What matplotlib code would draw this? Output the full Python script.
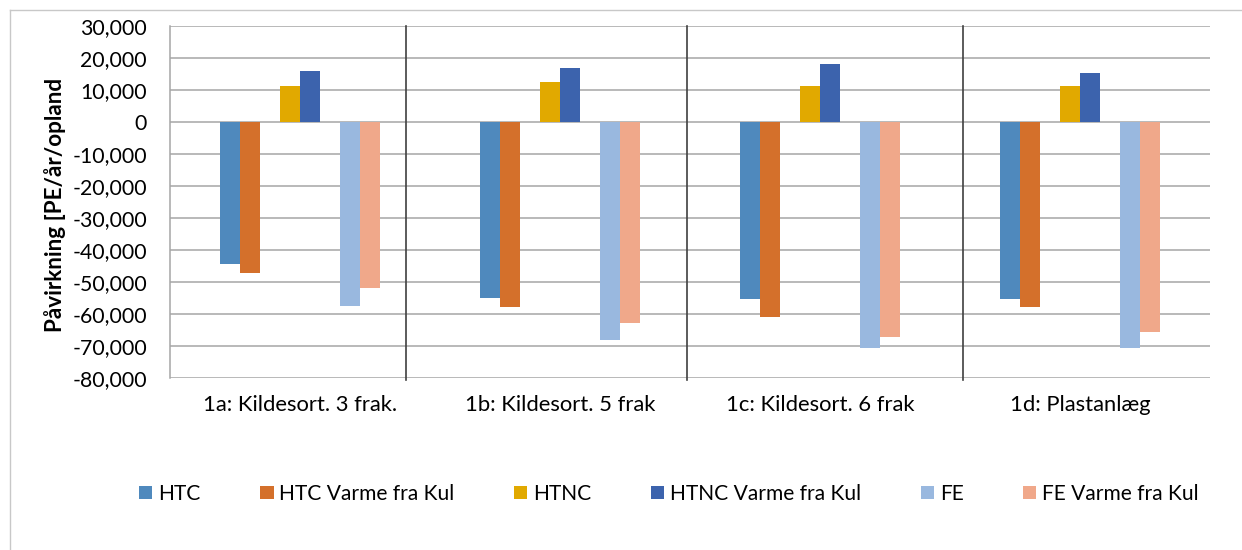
import matplotlib
matplotlib.use("Agg")
import matplotlib.pyplot as plt
from matplotlib.lines import Line2D
import numpy as np

plt.rcParams['font.family'] = ['Lato', 'DejaVu Sans']

# Categories and series values (PE/år/opland)
categories = ["1a: Kildesort. 3 frak.", "1b: Kildesort. 5 frak",
              "1c: Kildesort. 6 frak", "1d: Plastanlæg"]
series_names = ["HTC", "HTC Varme fra Kul", "HTNC", "HTNC Varme fra Kul",
                "FE", "FE Varme fra Kul"]
htc = [-44300, -55100, -55200, -55300]
htc_kul = [-47300, -57800, -60900, -57900]
htnc = [11100, 12300, 11100, 11100]
htnc_kul = [16000, 16700, 17900, 15300]
fe = [-57600, -68000, -70600, -70600]
fe_kul = [-51800, -62800, -67200, -65600]
yticks = [30000, 20000, 10000, 0, -10000, -20000, -30000, -40000,
          -50000, -60000, -70000, -80000]
ylabel = "Påvirkning [PE/år/opland"

colors = ["#4F89BD", "#D4702B", "#E1A900", "#3C63AD", "#99B8DF", "#F0A88A"]
values = [htc, htc_kul, htnc, htnc_kul, fe, fe_kul]

W, H = 1242, 550
DPI = 100
fig = plt.figure(figsize=(W / DPI, H / DPI), dpi=DPI)
renderer = fig.canvas.get_renderer()


def fit_size(text, width_px, weight="normal"):
    """Font size (pt) at which `text` spans `width_px` pixels."""
    t = fig.text(0, 0, text, fontsize=10, fontweight=weight)
    w = t.get_window_extent(renderer).width
    t.remove()
    return 10 * width_px / w


fs_tick = fit_size("30,000", 66)
fs_cat = fit_size(categories[0], 194)
fs_leg = fit_size(series_names[1], 175)
fs_lab = fit_size(ylabel, 255, "bold")

ax = fig.add_axes([170 / W, 1 - 378.3 / H, 1040 / W, (378.3 - 25.7) / H])

# ten slots per category; the series occupy slots 1,2,4,5,7,8
slot_w = 1 / 13
slots = [1, 2, 4, 5, 7, 8]
x = np.arange(len(categories))
handles = []
for vals, col, name, s in zip(values, colors, series_names, slots):
    b = ax.bar(x + (s - 4.5) * slot_w, vals, width=slot_w, color=col,
               edgecolor="none", label=name, zorder=3)
    handles.append(b)

ax.set_xlim(-0.5, len(categories) - 0.5)
ax.set_ylim(-80000, 30000)
ax.set_yticks(yticks)
ax.set_yticklabels([f"{v:,}" for v in yticks], fontsize=fs_tick)
ax.set_xticks(x)
ax.set_xticklabels(categories, fontsize=fs_cat)
ax.tick_params(axis="both", length=0, labelcolor="#000000")
ax.tick_params(axis="y", pad=23 * 72 / DPI)
ax.tick_params(axis="x", pad=17 * 72 / DPI)

ax.yaxis.grid(True, color="#A6A6A6", linewidth=1.1, zorder=0)
ax.set_axisbelow(True)
for side in ["top", "right", "bottom"]:
    ax.spines[side].set_visible(False)
ax.spines["left"].set_color("#A6A6A6")
ax.spines["left"].set_linewidth(1.1)

# separators between scenarios
for xd in [0.4077, 1.488, 2.55]:
    ax.plot([xd, xd], [-80500, 30000], color="#404040", linewidth=1.2,
            zorder=4, clip_on=False)

fig.text(55 / W, 1 - 205 / H, ylabel, rotation=90, ha="center", va="center",
         fontsize=fs_lab, fontweight="bold")

# legend: square handles, spacing set so the row spans 139..1199 px
fs_px = fs_leg * DPI / 72
hl = 13.5 / fs_px
hh = (13.5 / fs_px - 0.245) / 0.65
cs = 2.5
leg_kw = dict(handles=handles, labels=series_names, loc="center", ncol=6,
              frameon=False, fontsize=fs_leg, handlelength=hl,
              handleheight=hh, handletextpad=0.28, borderpad=0.0)
leg = fig.legend(bbox_to_anchor=(669 / W, 1 - 494 / H), columnspacing=cs,
                 **leg_kw)
w_now = leg.get_window_extent(renderer).width
leg.remove()
cs = cs + (1060 - w_now) / (5 * fs_px)
leg = fig.legend(bbox_to_anchor=(669 / W, 1 - 494 / H), columnspacing=cs,
                 **leg_kw)

# outer chart frame
fig.add_artist(Line2D([10 / W, 1], [1 - 10 / H, 1 - 10 / H],
                      color="#C8C8C8", linewidth=1.0))
fig.add_artist(Line2D([10 / W, 10 / W], [0, 1 - 10 / H],
                      color="#C8C8C8", linewidth=1.0))

fig.savefig("out.png", dpi=DPI)
